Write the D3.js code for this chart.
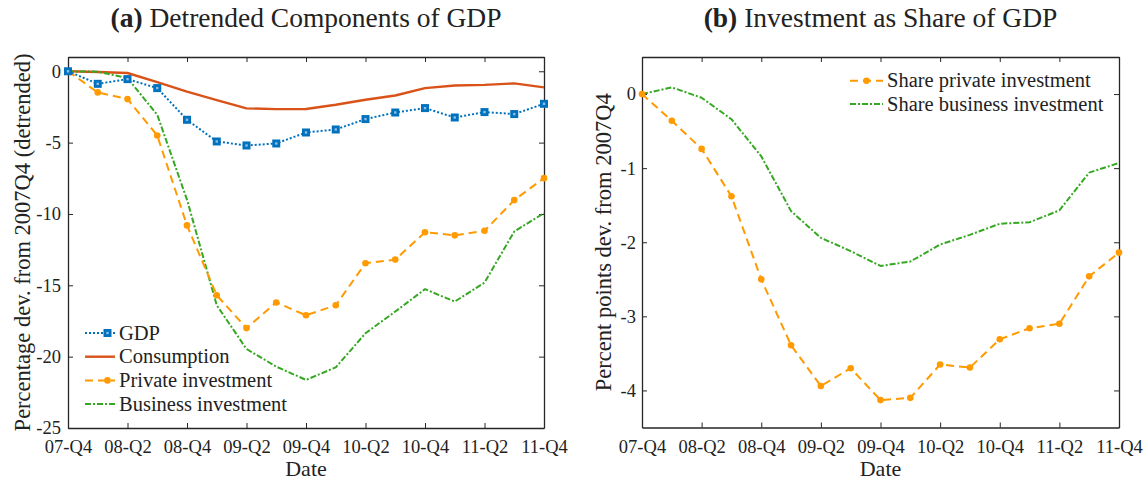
<!DOCTYPE html>
<html>
<head>
<meta charset="utf-8">
<script src="https://cdn.jsdelivr.net/npm/d3@7"></script>
<style>
  html, body { margin: 0; padding: 0; background: #fff; }
  svg { display: block; }
</style>
</head>
<body>
<svg id="chart" width="1148" height="482"></svg>
<script>
// Quarters from 2007Q4 to 2011Q4 (index 0..16)
const quarters = d3.range(17);
const tickQuarters = [0, 2, 4, 6, 8, 10, 12, 14, 16];
const tickLabels = ["07-Q4", "08-Q2", "08-Q4", "09-Q2", "09-Q4", "10-Q2", "10-Q4", "11-Q2", "11-Q4"];

// Panel (a): percentage deviation from 2007Q4, detrended
const gdp = [0, -0.88, -0.55, -1.18, -3.4, -4.92, -5.2, -5.06, -4.29, -4.08, -3.35, -2.89, -2.58, -3.24, -2.86, -3.0, -2.28];
const consumption = [0, -0.05, -0.12, -0.76, -1.42, -2.02, -2.6, -2.65, -2.64, -2.35, -2.0, -1.7, -1.18, -1.0, -0.95, -0.85, -1.13];
const privateInv = [0, -1.48, -1.95, -4.5, -10.8, -15.7, -18.0, -16.2, -17.1, -16.4, -13.45, -13.2, -11.28, -11.5, -11.18, -9.03, -7.49];
const businessInv = [0, -0.03, -0.48, -3.05, -9.0, -16.4, -19.46, -20.7, -21.63, -20.75, -18.36, -16.84, -15.27, -16.14, -14.81, -11.23, -9.94];

// Panel (b): investment as share of GDP, percentage points from 2007Q4
const sharePrivate = [0, -0.36, -0.74, -1.38, -2.5, -3.39, -3.94, -3.7, -4.13, -4.1, -3.65, -3.69, -3.31, -3.16, -3.1, -2.46, -2.14];
const shareBusiness = [0, 0.09, -0.05, -0.34, -0.84, -1.58, -1.94, -2.12, -2.32, -2.26, -2.03, -1.9, -1.75, -1.73, -1.57, -1.06, -0.93];

const yTicksA = [0, -5, -10, -15, -20, -25];
const yTicksB = [0, -1, -2, -3, -4];

const C = {
  blue: "#0072BD",
  blueInner: "#8fbde3",
  red: "#D95319",
  orange: "#FF9A00",
  green: "#35A822",
  axis: "#262626",
  text: "#222"
};
const FONT = '"Liberation Serif", serif';

const svg = d3.select("#chart");

// apply the serif face directly on each text node
function serif(sel, size) {
  return sel.style("font-family", FONT).style("font-size", size + "px").style("fill", C.text);
}

function drawMarker(sel, kind, cx, cy, color) {
  if (kind === "circle") {
    sel.append("circle").attr("cx", cx).attr("cy", cy).attr("r", 3.3).attr("fill", color);
  } else if (kind === "square") {
    sel.append("rect").attr("x", cx - 4).attr("y", cy - 4).attr("width", 8).attr("height", 8)
      .attr("fill", color);
    sel.append("rect").attr("x", cx - 1.2).attr("y", cy - 1.2).attr("width", 2.4).attr("height", 2.4)
      .attr("fill", C.blueInner);
  }
}

function panel(opts) {
  const { left, right, top, bottom, yDomain, yTicks, title, titleTag, yLabel, series, legend } = opts;
  const x = d3.scaleLinear().domain([0, 16]).range([left, right]);
  const y = d3.scaleLinear().domain(yDomain).range([bottom, top]);
  const g = svg.append("g");

  const tickLen = 5;

  // bottom axis with inward ticks
  const xb = g.append("g").attr("transform", `translate(0,${bottom})`)
    .call(d3.axisBottom(x).tickValues(tickQuarters).tickSizeInner(-tickLen).tickSizeOuter(0)
      .tickPadding(12).tickFormat((d, i) => tickLabels[i]));
  // top axis (ticks only)
  const xt = g.append("g").attr("transform", `translate(0,${top})`)
    .call(d3.axisTop(x).tickValues(tickQuarters).tickSizeInner(-tickLen).tickSizeOuter(0).tickFormat(""));
  // left axis
  const yl = g.append("g").attr("transform", `translate(${left},0)`)
    .call(d3.axisLeft(y).tickValues(yTicks).tickSizeInner(-tickLen).tickSizeOuter(0)
      .tickPadding(opts.yPad).tickFormat(d => String(d)));
  // right axis (ticks only)
  const yr = g.append("g").attr("transform", `translate(${right},0)`)
    .call(d3.axisRight(y).tickValues(yTicks).tickSizeInner(-tickLen).tickSizeOuter(0).tickFormat(""));

  [xb, xt, yl, yr].forEach(a => {
    a.select(".domain").attr("stroke", C.axis).attr("stroke-width", 1.3);
    a.selectAll(".tick line").attr("stroke", C.axis).attr("stroke-width", 1);
    serif(a.selectAll("text"), 18.5);
  });

  const plot = g.append("g");

  series.forEach(s => {
    const line = d3.line().x((d, i) => x(quarters[i])).y(d => y(d));
    plot.append("path").datum(s.values)
      .attr("fill", "none").attr("stroke", s.color).attr("stroke-width", s.width || 2)
      .attr("stroke-dasharray", s.dash || null)
      .attr("stroke-linejoin", "round")
      .attr("d", line);
    if (s.marker) {
      s.values.forEach((v, i) => drawMarker(plot, s.marker, x(quarters[i]), y(v), s.color));
    }
  });

  // legend
  const lg = g.append("g");
  legend.rows.forEach((s, i) => {
    const ly = legend.y + i * legend.dy;
    lg.append("line").attr("x1", legend.x).attr("x2", legend.x + legend.len)
      .attr("y1", ly).attr("y2", ly)
      .attr("stroke", s.color).attr("stroke-width", s.width || 2)
      .attr("stroke-dasharray", s.dash || null);
    if (s.marker) drawMarker(lg, s.marker, legend.x + legend.len * legend.markerAt, ly, s.color);
    serif(lg.append("text").attr("x", legend.x + legend.len + 4).attr("y", ly).attr("dy", "0.33em"), 20.5)
      .text(s.name);
  });

  // title
  const cx = (left + right) / 2;
  const t = serif(g.append("text").attr("x", cx).attr("y", 27).attr("text-anchor", "middle"), 27.5);
  t.append("tspan").style("font-weight", "bold").text(titleTag + " ");
  t.append("tspan").text(title);

  // axis labels
  serif(g.append("text").attr("x", cx).attr("y", 476).attr("text-anchor", "middle"), 22).text("Date");
  serif(g.append("text").attr("transform", `translate(${opts.yLabelX},${(top + bottom) / 2}) rotate(-90)`)
    .attr("text-anchor", "middle"), 22.5).text(yLabel);
}

const sGDP = { name: "GDP", values: gdp, color: C.blue, dash: "2,2", marker: "square" };
const sCons = { name: "Consumption", values: consumption, color: C.red, width: 2.4 };
const sPriv = { name: "Private investment", values: privateInv, color: C.orange, dash: "8,5", marker: "circle" };
const sBus = { name: "Business investment", values: businessInv, color: C.green, dash: "6,2,2,2" };

panel({
  left: 68, right: 544, top: 57, bottom: 428,
  yDomain: [-25, 1], yTicks: yTicksA, yPad: 7,
  titleTag: "(a)", title: "Detrended Components of GDP",
  yLabel: "Percentage dev. from 2007Q4 (detrended)", yLabelX: 30,
  series: [sCons, sBus, sPriv, sGDP],
  legend: { x: 85, y: 333, dy: 23.7, len: 30, markerAt: 0.75, rows: [sGDP, sCons, sPriv, sBus] }
});

const sShP = { name: "Share private investment", values: sharePrivate, color: C.orange, dash: "8,5", marker: "circle" };
const sShB = { name: "Share business investment", values: shareBusiness, color: C.green, dash: "6,2,2,2" };

panel({
  left: 642, right: 1119, top: 57, bottom: 427.5,
  yDomain: [-4.5, 0.5], yTicks: yTicksB, yPad: 6,
  titleTag: "(b)", title: "Investment as Share of GDP",
  yLabel: "Percent points dev. from 2007Q4", yLabelX: 611,
  series: [sShB, sShP],
  legend: { x: 850, y: 80.7, dy: 23.4, len: 33, markerAt: 0.5, rows: [sShP, sShB] }
});
</script>
</body>
</html>
